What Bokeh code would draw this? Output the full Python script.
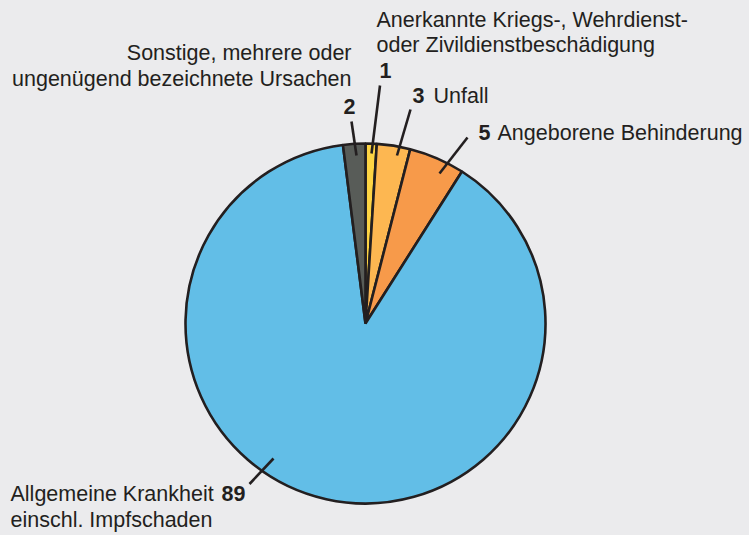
import numpy as np
from bokeh.plotting import figure
from bokeh.models import Range1d, ColumnDataSource
from bokeh.core.properties import value
from bokeh.embed import file_html
from bokeh.resources import INLINE

# ---- data (clockwise from 12 o'clock) ----
categories = [
    "Anerkannte Kriegs-, Wehrdienst- oder Zivildienstbeschädigung",
    "Unfall",
    "Angeborene Behinderung",
    "Allgemeine Krankheit einschl. Impfschaden",
    "Sonstige, mehrere oder ungenügend bezeichnete Ursachen",
]
values = [1, 3, 5, 89, 2]
colors = ["#fdd444", "#fdb751", "#f79a4a", "#62bee7", "#585c58"]

# ---- layout ----
W, H = 741, 527
BG = "#ebebed"
INK = "#231f20"
FONT = value("Liberation Sans")
FS = "21.5px"

def Y(y_img):
    # image y (top-down) -> data y (bottom-up)
    return 535 - y_img

cx, cy, R = 365, Y(323), 180

p = figure(width=W, height=H, output_backend="svg", toolbar_location=None,
           x_range=Range1d(8, 8 + W), y_range=Range1d(0, H),
           min_border=0, background_fill_color=BG, border_fill_color=BG,
           outline_line_color=None)
p.axis.visible = False
p.grid.visible = False

vals = np.array(values, dtype=float)
frac = vals / vals.sum()
cum = np.concatenate([[0], np.cumsum(frac)])
start = np.pi / 2 - 2 * np.pi * cum[:-1]
end = np.pi / 2 - 2 * np.pi * cum[1:]
src = ColumnDataSource(dict(start=start, end=end, color=colors))
p.wedge(x=cx, y=cy, radius=R, start_angle="start", end_angle="end",
        direction="clock", fill_color="color", line_color=INK,
        line_width=2.6, source=src)

# leader lines (annotation layout, image coords): inner -> outer
leaders = [
    ((371, 153), (379.5, 85)),    # 1
    ((396.5, 155), (410, 109)),   # 3
    ((439, 173), (467, 137)),     # 5
    ((273, 458), (249, 483.5)),   # 89
    ((356, 155), (351, 121)),     # 2
]
for (x0, y0), (x1, y1) in leaders:
    p.line([x0, x1], [Y(y0), Y(y1)], line_color=INK, line_width=2.6)

def txt(x, y, s, align="left", bold=False):
    p.text(x=[x], y=[Y(y)], text=[s], text_align=align, text_baseline="middle",
           text_font=FONT, text_font_size=FS, text_color=INK,
           text_font_style="bold" if bold else "normal")

# value labels
num = [str(v) for v in values]
txt(379, 70, num[0], bold=True)
txt(412, 95, num[1], bold=True)
txt(478, 132, num[2], bold=True)
txt(221, 493, num[3], bold=True)
txt(355, 106, num[4], align="right", bold=True)

# category labels
txt(376, 19, "Anerkannte Kriegs-, Wehrdienst-")
txt(376, 44, "oder Zivildienstbeschädigung")
txt(433, 95, categories[1])
txt(497, 132, categories[2])
txt(10, 493, "Allgemeine Krankheit")
txt(10, 519, "einschl. Impfschaden")
txt(351, 52, "Sonstige, mehrere oder", align="right")
txt(351, 78, "ungenügend bezeichnete Ursachen", align="right")

html = file_html(p, INLINE)
html = html.replace("</head>", "<style>html,body{background:%s;margin:0;overflow:hidden;}body{margin:8px 0 0 8px;}</style></head>" % BG, 1)
open("out.html", "w").write(html)
